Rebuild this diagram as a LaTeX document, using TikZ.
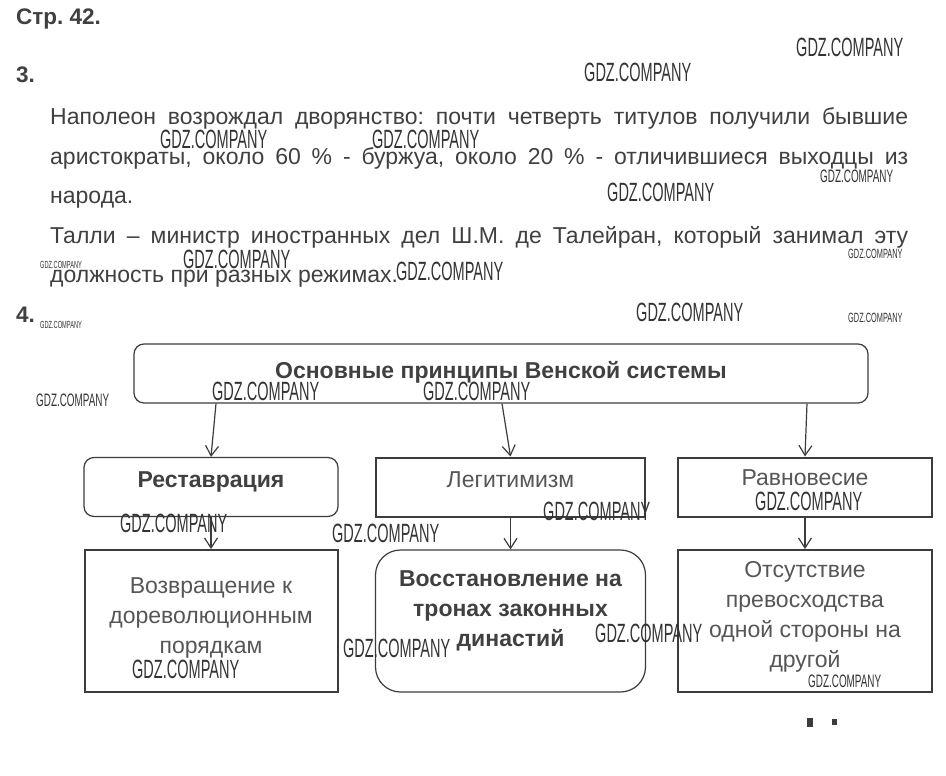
\documentclass[tikz,border=0pt]{standalone}
\usepackage{fontspec}
\setmainfont{Liberation Sans}
\newfontfamily\stampfont[FakeStretch=0.55]{Liberation Sans}
\usepackage{xcolor}
\usetikzlibrary{arrows.meta,positioning}
\definecolor{framegray}{HTML}{3C3C3C}
\definecolor{inkgray}{HTML}{404040}
\definecolor{softgray}{HTML}{565656}
\tikzset{%
	headtext/.style   = {anchor=base west, inner sep=0, text=inkgray, font=\fontsize{22.5}{25}\selectfont\bfseries\frenchspacing},
	roundbox/.style   = {draw=framegray, line width=1.2pt, rounded corners=10pt, inner sep=0, minimum height=59pt}, % rounded frame
	sharpbox/.style   = {draw=framegray, line width=2pt, inner sep=0, minimum height=59pt}, % square frame
	boldlabel/.style  = {inner sep=0, text=inkgray, align=center, font=\fontsize{23}{30}\selectfont\bfseries},
	plainlabel/.style = {inner sep=0, text=softgray, align=center, font=\fontsize{23}{30}\selectfont},
	arrow/.style      = {draw=framegray, line width=1.2pt, -{Straight Barb[length=10pt,width=13pt]}},
	stamp/.style      = {anchor=base west, inner sep=0, text=black!80, font=\stampfont\fontsize{#1}{#1}\selectfont}, % site watermark
}
\begin{document}
\begin{tikzpicture}[x=1pt,y=-1pt]
	\useasboundingbox[fill=white] (0,0) rectangle (946,776);
	% task text
	\node [headtext] (page) at (16,25) {Стр. 42.};
	\node [headtext] (taskthree) at (16,83) {3.};
	\node [anchor=north west, inner sep=0, text width=858pt, align=justify, text=inkgray,
		font=\fontsize{23}{39.5}\selectfont\frenchspacing] (answer) at (50,107.5)
		{\noindent Наполеон возрождал дворянство: почти четверть титулов получили бывшие\linebreak
		аристократы, около 60 \% - буржуа, около 20 \% - отличившиеся выходцы из\linebreak
		народа.\par
		\noindent Талли – министр иностранных дел Ш.М. де Талейран, который занимал эту\linebreak
		должность при разных режимах.};
	\node [headtext] (taskfour) at (16,322) {4.};
	
	% scheme
	\node [roundbox, minimum width=734pt] (vienna) at (501,373.5) {};
	\node [sharpbox, minimum width=269pt] (legit) [below of=vienna, node distance=113.5pt, xshift=9.5pt] {};
	\node [roundbox, minimum width=254pt] (resto) [left of=legit, node distance=299.5pt] {};
	\node [sharpbox, minimum width=254pt] (balance) [right of=legit, node distance=294.5pt] {};
	\node [sharpbox, minimum width=253pt, minimum height=142pt] (rollback) [below of=resto, node distance=134pt] {};
	\node [roundbox, rounded corners=25pt, minimum width=270pt, minimum height=142pt] (dynasty) [below of=legit, node distance=134pt] {};
	\node [sharpbox, minimum width=254pt, minimum height=142pt] (nobias) [below of=balance, node distance=134pt] {};
	
	\node [boldlabel, anchor=base] (viennatext) at ([yshift=-4.5pt]vienna.center) {Основные принципы Венской системы};
	\node [boldlabel, anchor=base] (restotext) at (resto.center) {Реставрация};
	\node [plainlabel, anchor=base] (legittext) at (legit.center) {Легитимизм};
	\node [plainlabel, anchor=base] (balancetext) at ([yshift=2pt]balance.center) {Равновесие};
	\node [plainlabel, anchor=north] (rollbacktext) at ([yshift=-28pt]rollback.north) {Возвращение к\\ дореволюционным\\ порядкам};
	\node [boldlabel, anchor=north] (dynastytext) at ([yshift=-21pt]dynasty.north) {Восстановление на\\ тронах законных\\ династий};
	\node [plainlabel, anchor=north] (nobiastext) at ([yshift=-12pt]nobias.north) {Отсутствие\\ превосходства\\ одной стороны на\\ другой};
	
	\draw[arrow] ([xshift=-285pt]vienna.south) -- (resto.north);
	\draw[arrow] ([xshift=1pt]vienna.south) -- (legit.north);
	\draw[arrow] ([xshift=306pt]vienna.south) -- (balance.north);
	\draw[arrow] (resto.south) -- (rollback.north);
	\draw[arrow] (legit.south) -- (dynasty.north);
	\draw[arrow] (balance.south) -- (nobias.north);
	
	\fill[framegray] (807,718) rectangle (813,727);
	\fill[framegray] (832,719) rectangle (837,725);
	
	% watermarks
	\foreach \x/\y/\s [count=\i] in {796/57/26.4, 584/82/26.4, 160/148/26.4, 372/148/26.4, 820/182/18,
		607/201/26.4, 848/258/13.4, 183/268/26.4, 40/268/10.3, 396/280/26.4, 636/321/26.4, 848/322/13.4,
		40/328/10.3, 36/406/18, 212/400/26.4, 423/400/26.4, 755/510/26.4, 543/520/26.4, 120/532/26.4,
		332/542/26.4, 343/657/26.4, 595/642/26.4, 132/678/26.4, 808/687/18}
		\node [stamp=\s] (gdz\i) at (\x,\y) {GDZ.COMPANY};
\end{tikzpicture}
\end{document}
